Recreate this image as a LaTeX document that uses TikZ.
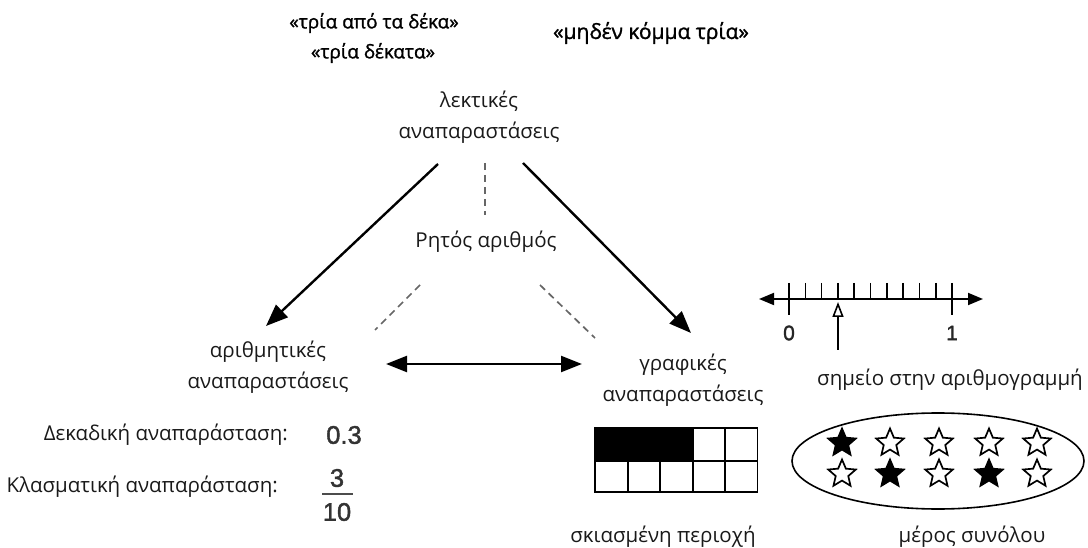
\documentclass[tikz,border=0pt]{standalone}
\usepackage{fontspec}
\setmainfont{Open Sans}
\newfontfamily\quotefont{Open Sans}[FakeBold=1.2]
\newfontfamily\numfont{Liberation Sans}[FakeBold=1.6]
\usetikzlibrary{arrows.meta,shapes.geometric}

\tikzset{
  label/.style={font=\fontsize{20.5}{31}\selectfont, text=black!90, inner sep=0pt, align=center},
  qlabel/.style={font=\quotefont\fontsize{19}{22}\selectfont, text=black, inner sep=0pt},
  sidelabel/.style={font=\fontsize{20.5}{22}\selectfont, text=black!90, inner sep=0pt},
  numtext/.style={font=\numfont\fontsize{25.5}{27}\selectfont, text=black!80, inner sep=0pt},
  smallnum/.style={font=\numfont\fontsize{21}{23}\selectfont, text=black!85, inner sep=0pt},
  link/.style={line width=2.4pt, -{Triangle[length=22pt,width=17pt]}},
  bilink/.style={line width=2.4pt, {Triangle[length=21pt,width=16pt]}-{Triangle[length=21pt,width=16pt]}},
  weak/.style={line width=1.7pt, draw=black!60, dash pattern=on 7pt off 5pt},
  cellbox/.style={draw, line width=1.6pt},
  starmark/.style={star, star points=5, star point ratio=2.2, minimum size=29pt, inner sep=0pt, draw, line width=1.7pt},
}

\begin{document}
\begin{tikzpicture}[x=1pt,y=-1pt]
\useasboundingbox (0,0) rectangle (1088,548);

% verbal forms
\node[qlabel] (q1) at (374,23) {«τρία από τα δέκα»};
\node[qlabel] (q2) at (373,53) {«τρία δέκατα»};
\node[qlabel, font=\quotefont\fontsize{21}{22}\selectfont] (q3) at (651,33) {«μηδέν κόμμα τρία»};

% the three kinds of representation
\node[label] (verbal) at (479,117) {λεκτικές\\αναπαραστάσεις};
\node[label] (core) at (486,242) {Ρητός αριθμός};
\node[label] (arith) at (268,367) {αριθμητικές\\αναπαραστάσεις};
\node[label] (graph) at (683,380) {γραφικές\\αναπαραστάσεις};

% arrow ends
\coordinate (vl) at (438,164);
\coordinate (al) at (266,326);
\coordinate (vr) at (523,163);
\coordinate (gr) at (691,333);
\coordinate (ab) at (386,364);
\coordinate (gb) at (582,364);
\draw[link] (vl) -- (al);
\draw[link] (vr) -- (gr);
\draw[bilink] (ab) -- (gb);

% dashed ties to the rational number
\coordinate (c1) at (485,163);
\coordinate (c2) at (485,215);
\coordinate (c3) at (420,285);
\coordinate (c4) at (375,330);
\coordinate (c5) at (540,285);
\coordinate (c6) at (595,338);
\draw[weak] (c1) -- (c2);
\draw[weak] (c3) -- (c4);
\draw[weak] (c5) -- (c6);

% numeric forms
\node[sidelabel, anchor=east] (dec) at (288,435) {Δεκαδική αναπαράσταση:};
\node[numtext] (decv) at (344,435) {0.3};
\node[sidelabel, anchor=east] (frac) at (278,487) {Κλασματική αναπαράσταση:};
\node[numtext] (num) at (337,478) {3};
\node[numtext] (den) at (337,512) {10};
\draw[line width=1.6pt, black!70] (322,494) -- (353,494);

% number line
\coordinate (nl) at (759,299);
\coordinate (nr) at (983,299);
\draw[line width=1.8pt, {Triangle[length=15pt,width=12pt]}-{Triangle[length=15pt,width=12pt]}] (nl) -- (nr);
\foreach \i in {1,...,9} {
  \draw[line width=1.6pt] (789+16.3*\i,283) -- (789+16.3*\i,299);
}
\draw[line width=1.6pt] (789,283) -- (789,315);
\draw[line width=1.6pt] (952,283) -- (952,315);
\node[smallnum] (zero) at (789,333) {0};
\node[smallnum] (one) at (952,333) {1};
\coordinate (pb) at (838,350);
\coordinate (pt) at (838,302);
\draw[line width=1.6pt, -{Triangle[open,length=15pt,width=11pt,line width=1.6pt]}] (pb) -- (pt);
\node[label] (nlabel) at (950,380) {σημείο στην αριθμογραμμή};

% shaded area model
\fill[black] (595,428) rectangle (693,461);
\foreach \x in {595,628,660,693,725} {
  \draw[cellbox] (\x,428) rectangle ++(32.6,32.5);
  \draw[cellbox] (\x,461) rectangle ++(32.6,31);
}
\node[label] (alabel) at (663,537) {σκιασμένη περιοχή};

% part of a set
\draw[line width=1.6pt] (938,461) ellipse [x radius=146, y radius=48];
\foreach \x/\c in {842/black,890/white,939/white,989/white,1037/white} {
  \node[starmark, fill=\c] at (\x,443) {};
}
\foreach \x/\c in {842/white,890/black,939/white,989/black,1037/white} {
  \node[starmark, fill=\c] at (\x,474) {};
}
\node[label] (slabel) at (972,537) {μέρος συνόλου};

\end{tikzpicture}
\end{document}
